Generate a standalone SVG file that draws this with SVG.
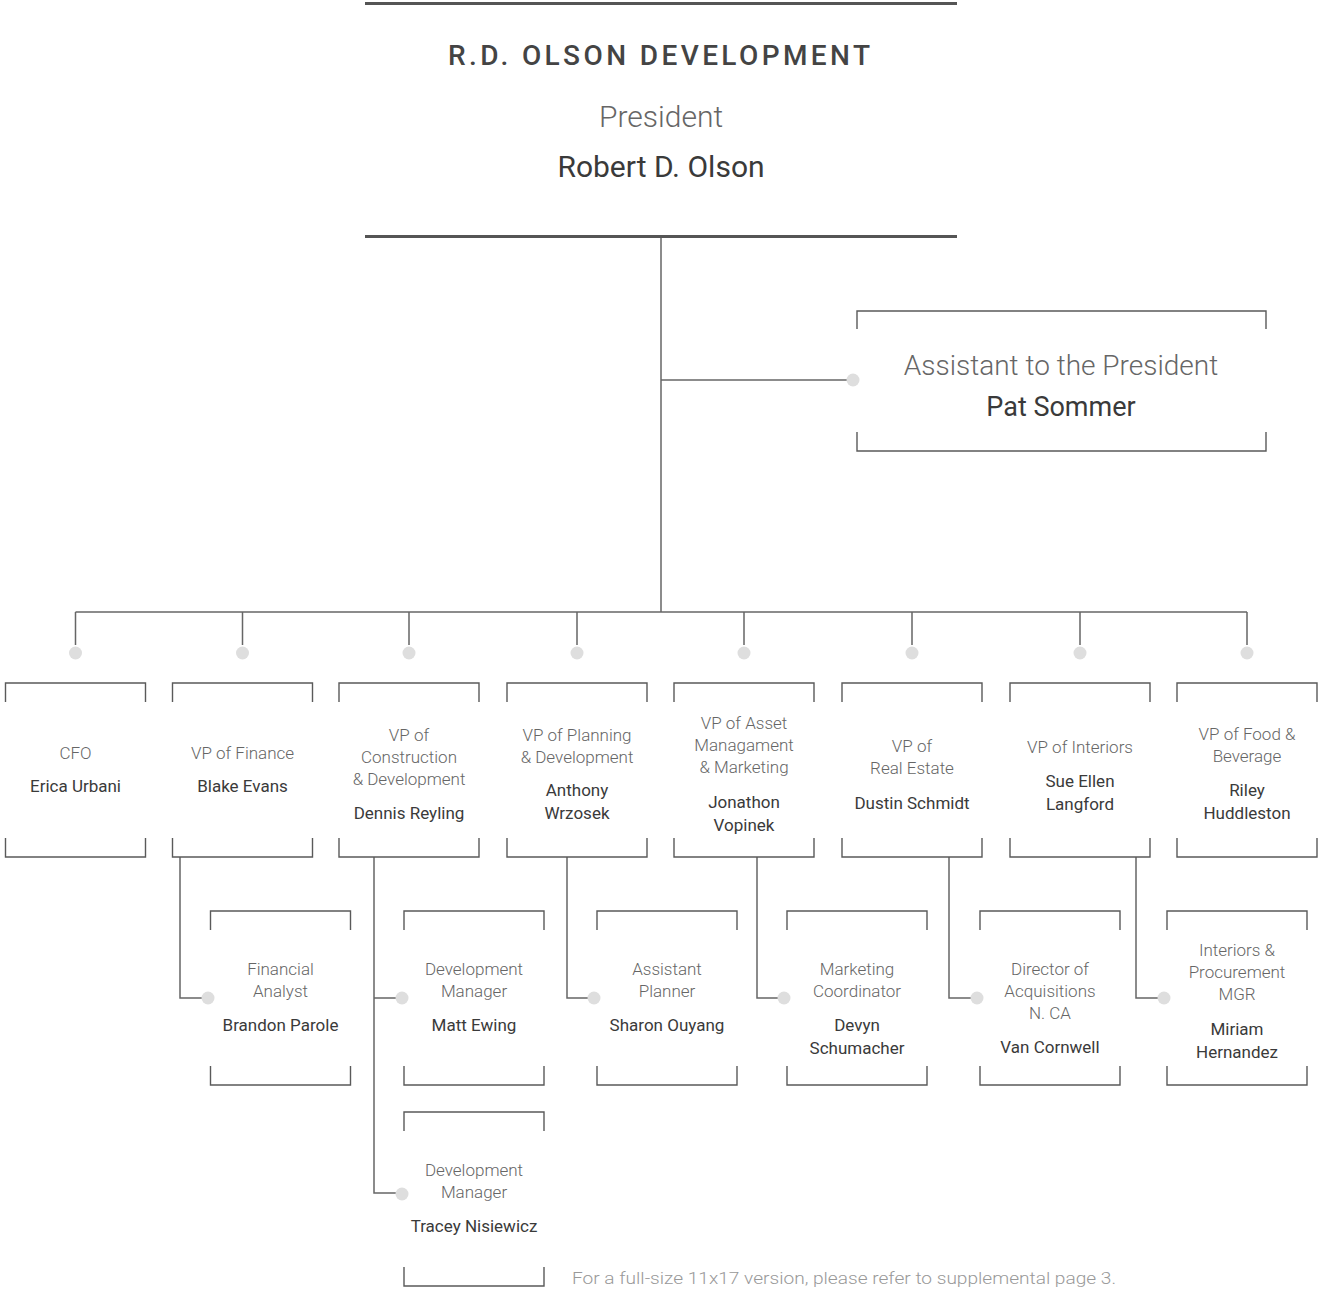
<svg xmlns="http://www.w3.org/2000/svg" width="1319" height="1289" viewBox="0 0 1319 1289">
<style>
.bg{fill:#ffffff}
.hdr{stroke:#555;stroke-width:3;fill:none}
.br{stroke:#5a5a5a;stroke-width:1.4;fill:none}
.cn{stroke:#666;stroke-width:1.5;fill:none}
.dot{fill:#dedede}
text{font-family:Roboto,"Liberation Sans",sans-serif;text-anchor:middle}
.t{font-size:17px;font-weight:300;fill:#666}
.n{font-size:17px;font-weight:400;fill:#3a3a3a}
.big{font-size:30px}
.ttl{font-size:28px;font-weight:500;fill:#444;letter-spacing:4px}
.foot{font-size:17px;font-weight:300;fill:#999;text-anchor:start}
</style>
<rect class="bg" x="0" y="0" width="1319" height="1289"/>
<g id="connectors">
<path class="cn" d="M661 237V612"/>
<path class="cn" d="M661 380H850"/>
<path class="cn" d="M75.5 612H1247"/>
<path class="cn" d="M75.5 612V645M242.5 612V645M409 612V645M577 612V645M744 612V645M912 612V645M1080 612V645M1247 612V645"/>
<path class="cn" d="M180 857V998H204"/>
<path class="cn" d="M374 857V1193H398M374 998H398"/>
<path class="cn" d="M567 857V998H590"/>
<path class="cn" d="M757 857V998H780"/>
<path class="cn" d="M949 857V998H973"/>
<path class="cn" d="M1136 857V998H1160"/>
<circle class="dot" cx="853" cy="380" r="6.5"/>
<circle class="dot" cx="75.5" cy="653" r="6.5"/>
<circle class="dot" cx="242.5" cy="653" r="6.5"/>
<circle class="dot" cx="409" cy="653" r="6.5"/>
<circle class="dot" cx="577" cy="653" r="6.5"/>
<circle class="dot" cx="744" cy="653" r="6.5"/>
<circle class="dot" cx="912" cy="653" r="6.5"/>
<circle class="dot" cx="1080" cy="653" r="6.5"/>
<circle class="dot" cx="1247" cy="653" r="6.5"/>
<circle class="dot" cx="208" cy="998" r="6.5"/>
<circle class="dot" cx="402" cy="998" r="6.5"/>
<circle class="dot" cx="402" cy="1194" r="6.5"/>
<circle class="dot" cx="594" cy="998" r="6.5"/>
<circle class="dot" cx="784" cy="998" r="6.5"/>
<circle class="dot" cx="977" cy="998" r="6.5"/>
<circle class="dot" cx="1164" cy="998" r="6.5"/>
</g>
<g id="president">
<path class="hdr" d="M365 3.5H957M365 236.5H957"/>
<text class="ttl" x="661" y="65" textLength="426">R.D. OLSON DEVELOPMENT</text>
<text class="t big" x="661" y="127">President</text>
<text class="n big" x="661" y="177">Robert D. Olson</text>
</g>
<g id="assistant">
<path class="br" d="M857 329V311H1266V329M857 432V451H1266V432"/>
<text class="t" style="font-size:28px" x="1061" y="375">Assistant to the President</text>
<text class="n" style="font-size:27px" x="1061" y="416">Pat Sommer</text>
</g>
<g id="cfo">
<path class="br" d="M5.5 702V683H145.5V702M5.5 838V857H145.5V838"/>
<text class="t" x="75.5" y="759">CFO</text>
<text class="n" x="75.5" y="792">Erica Urbani</text>
</g>
<g id="vp-finance">
<path class="br" d="M172.5 702V683H312.5V702M172.5 838V857H312.5V838"/>
<text class="t" x="242.5" y="759">VP of Finance</text>
<text class="n" x="242.5" y="792">Blake Evans</text>
</g>
<g id="vp-construction">
<path class="br" d="M339 702V683H479V702M339 838V857H479V838"/>
<text class="t" x="409" y="741">VP of</text>
<text class="t" x="409" y="763">Construction</text>
<text class="t" x="409" y="785">&amp; Development</text>
<text class="n" x="409" y="819">Dennis Reyling</text>
</g>
<g id="vp-planning">
<path class="br" d="M507 702V683H647V702M507 838V857H647V838"/>
<text class="t" x="577" y="741">VP of Planning</text>
<text class="t" x="577" y="763">&amp; Development</text>
<text class="n" x="577" y="796">Anthony</text>
<text class="n" x="577" y="819">Wrzosek</text>
</g>
<g id="vp-asset">
<path class="br" d="M674 702V683H814V702M674 838V857H814V838"/>
<text class="t" x="744" y="729">VP of Asset</text>
<text class="t" x="744" y="751">Managament</text>
<text class="t" x="744" y="773">&amp; Marketing</text>
<text class="n" x="744" y="808">Jonathon</text>
<text class="n" x="744" y="831">Vopinek</text>
</g>
<g id="vp-real-estate">
<path class="br" d="M842 702V683H982V702M842 838V857H982V838"/>
<text class="t" x="912" y="752">VP of</text>
<text class="t" x="912" y="774">Real Estate</text>
<text class="n" x="912" y="809">Dustin Schmidt</text>
</g>
<g id="vp-interiors">
<path class="br" d="M1010 702V683H1150V702M1010 838V857H1150V838"/>
<text class="t" x="1080" y="753">VP of Interiors</text>
<text class="n" x="1080" y="787">Sue Ellen</text>
<text class="n" x="1080" y="810">Langford</text>
</g>
<g id="vp-food">
<path class="br" d="M1177 702V683H1317V702M1177 838V857H1317V838"/>
<text class="t" x="1247" y="740">VP of Food &amp;</text>
<text class="t" x="1247" y="762">Beverage</text>
<text class="n" x="1247" y="796">Riley</text>
<text class="n" x="1247" y="819">Huddleston</text>
</g>
<g id="financial-analyst">
<path class="br" d="M210.5 930V911H350.5V930M210.5 1066V1085H350.5V1066"/>
<text class="t" x="280.5" y="975">Financial</text>
<text class="t" x="280.5" y="997">Analyst</text>
<text class="n" x="280.5" y="1031">Brandon Parole</text>
</g>
<g id="dev-manager-1">
<path class="br" d="M404 930V911H544V930M404 1066V1085H544V1066"/>
<text class="t" x="474" y="975">Development</text>
<text class="t" x="474" y="997">Manager</text>
<text class="n" x="474" y="1031">Matt Ewing</text>
</g>
<g id="dev-manager-2">
<path class="br" d="M404 1131V1112H544V1131M404 1267V1286H544V1267"/>
<text class="t" x="474" y="1176">Development</text>
<text class="t" x="474" y="1198">Manager</text>
<text class="n" x="474" y="1232">Tracey Nisiewicz</text>
</g>
<g id="assistant-planner">
<path class="br" d="M597 930V911H737V930M597 1066V1085H737V1066"/>
<text class="t" x="667" y="975">Assistant</text>
<text class="t" x="667" y="997">Planner</text>
<text class="n" x="667" y="1031">Sharon Ouyang</text>
</g>
<g id="marketing-coordinator">
<path class="br" d="M787 930V911H927V930M787 1066V1085H927V1066"/>
<text class="t" x="857" y="975">Marketing</text>
<text class="t" x="857" y="997">Coordinator</text>
<text class="n" x="857" y="1031">Devyn</text>
<text class="n" x="857" y="1054">Schumacher</text>
</g>
<g id="director-acquisitions">
<path class="br" d="M980 930V911H1120V930M980 1066V1085H1120V1066"/>
<text class="t" x="1050" y="975">Director of</text>
<text class="t" x="1050" y="997">Acquisitions</text>
<text class="t" x="1050" y="1019">N. CA</text>
<text class="n" x="1050" y="1053">Van Cornwell</text>
</g>
<g id="interiors-procurement">
<path class="br" d="M1167 930V911H1307V930M1167 1066V1085H1307V1066"/>
<text class="t" x="1237" y="956">Interiors &amp;</text>
<text class="t" x="1237" y="978">Procurement</text>
<text class="t" x="1237" y="1000">MGR</text>
<text class="n" x="1237" y="1035">Miriam</text>
<text class="n" x="1237" y="1058">Hernandez</text>
</g>
<text class="foot" x="572" y="1284" textLength="544" lengthAdjust="spacingAndGlyphs">For a full-size 11x17 version, please refer to supplemental page 3.</text>
</svg>
